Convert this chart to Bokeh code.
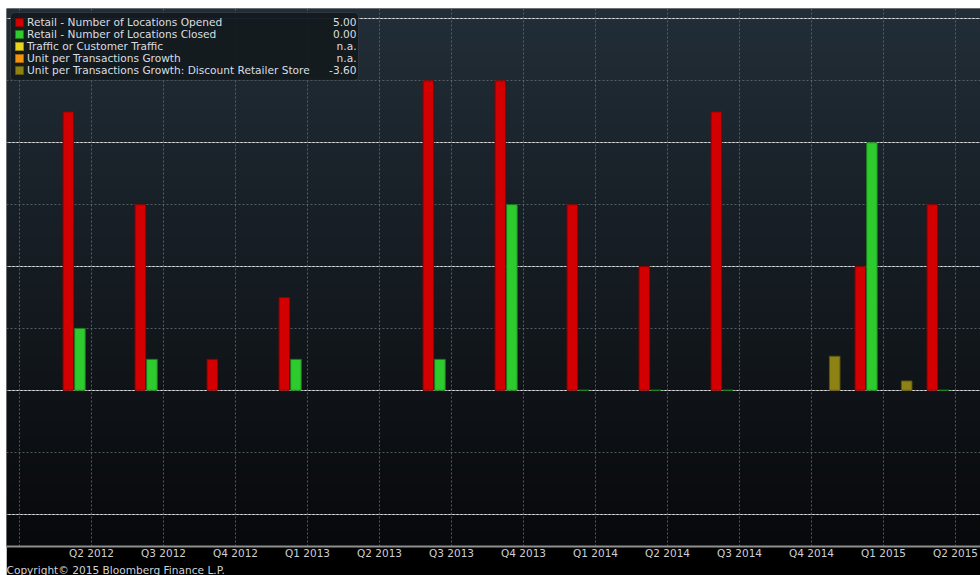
import numpy as np
from bokeh.plotting import figure
from bokeh.models import (Range1d, Legend, LegendItem, Label, FixedTicker,
                          ColumnDataSource, Grid, BoxAnnotation)
from bokeh.embed import file_html
from bokeh.resources import INLINE

nan = float("nan")

# ---------------- data ----------------
quarters = ["Q2 2012", "Q3 2012", "Q4 2012", "Q1 2013", "Q2 2013", "Q3 2013",
            "Q4 2013", "Q1 2014", "Q2 2014", "Q3 2014", "Q4 2014", "Q1 2015",
            "Q2 2015"]
opened = [4.5, 3.0, 0.5, 1.5, nan, 5.0, 5.0, 3.0, 2.0, 4.5, nan, 2.0, 3.0]
closed = [1.0, 0.5, nan, 0.5, nan, 0.5, 3.0, 0.0, 0.0, 0.0, nan, 4.0, 0.0]
traffic = [nan, nan, nan, nan, nan, nan, nan, nan, nan, nan, nan, nan, nan]
unit_growth = [nan, nan, nan, nan, nan, nan, nan, nan, nan, nan, nan, nan, nan]
discount = [nan, nan, nan, nan, nan, nan, nan, nan, nan, nan, 0.55, 0.15, nan]

series_names = ["Retail - Number of Locations Opened",
                "Retail - Number of Locations Closed",
                "Traffic or Customer Traffic",
                "Unit per Transactions Growth",
                "Unit per Transactions Growth: Discount Retailer Store"]
latest_values = ["5.00", "0.00", "n.a.", "n.a.", "-3.60"]
series_data = [opened, closed, traffic, unit_growth, discount]
colors = ["#d20000", "#2ecb2e", "#e6d41e", "#f39410", "#8f8214"]
edge_colors = ["#8a0000", "#1d7d1d", "#9a8c10", "#a5630a", "#5e550c"]
copyright_text = "Copyright\u00a9 2015 Bloomberg Finance L.P."

# ---------------- figure ----------------
PX = 62.0                      # pixels per y unit
X0, X1 = -1.181, 12.347
Y1 = 382.5 / PX
Y0 = Y1 - 539 / PX

p = figure(width=974, height=567, output_backend="svg", toolbar_location=None,
           x_range=Range1d(X0, X1), y_range=Range1d(Y0, Y1),
           y_axis_location=None, min_border_left=0, min_border_right=0,
           min_border_top=0, min_border_bottom=0,
           title=copyright_text, title_location="below")
p.margin = (8, 0, 0, 6)
p.border_fill_color = "black"
p.outline_line_color = None
p.background_fill_color = "#111418"
p.xgrid.visible = False

p.title.align = "left"
p.title.text_font = "DejaVu Sans"
p.title.text_font_size = "10.6px"
p.title.text_font_style = "normal"
p.title.text_color = "#d0d4d8"
p.title.standoff = 0
p.title.offset = 0

# vertical gradient background (top slate -> bottom near black)
n = 200
top = np.array([34, 46, 56], dtype=float)
bot = np.array([8, 9, 11], dtype=float)
t = np.linspace(0, 1, n)[:, None]
rgb = (bot * (1 - t) + top * t).astype(np.uint8)
img = np.zeros((n, 1), dtype=np.uint32)
view = img.view(dtype=np.uint8).reshape((n, 1, 4))
view[:, 0, 0] = rgb[:, 0]
view[:, 0, 1] = rgb[:, 1]
view[:, 0, 2] = rgb[:, 2]
view[:, 0, 3] = 255
p.image_rgba(image=[img], x=X0, y=Y0, dw=X1 - X0, dh=Y1 - Y0, level="image")

# grids
grid_style = dict(grid_line_color="#646b73", grid_line_alpha=0.8,
                  grid_line_dash="2 2", grid_line_width=1)
p.add_layout(Grid(dimension=0, ticker=FixedTicker(ticks=list(range(-1, 13))), **grid_style), "center")
p.add_layout(Grid(dimension=1, ticker=FixedTicker(ticks=list(range(-2, 7))), **grid_style), "center")

# bars
pitch = 0.161
width = 0.147
idx = np.arange(len(quarters))
renderers = []
for k, (vals, c, ec) in enumerate(zip(series_data, colors, edge_colors)):
    src = ColumnDataSource(dict(x=idx + (k - 2) * pitch, top=vals))
    r = p.vbar(x="x", top="top", bottom=0, width=width, source=src,
               fill_color=c, line_color=ec, line_width=1)
    renderers.append(r)

# x axis
ax = p.xaxis[0]
ax.ticker = FixedTicker(ticks=list(range(-1, 13)))
overrides = {i: q for i, q in enumerate(quarters)}
overrides[-1] = ""
ax.major_label_overrides = overrides
ax.axis_line_color = "#8e8e8e"
ax.axis_line_width = 2
ax.major_tick_in = 0
ax.major_tick_out = 0
ax.minor_tick_line_color = None
ax.major_label_standoff = 0
ax.major_label_text_font = "DejaVu Sans"
ax.major_label_text_font_size = "10.5px"
ax.major_label_text_color = "#c9d1d9"

# legend background box (drawn separately so the value column stays visible)
p.add_layout(BoxAnnotation(left=4, right=352, top=Y1 - 4 / PX, bottom=Y1 - 72 / PX,
                           left_units="screen", right_units="screen",
                           fill_color="#141a1f", fill_alpha=0.95,
                           line_color="#5c636b", line_width=1, border_radius=4,
                           level="annotation"))

items = [LegendItem(label=nm, renderers=[r]) for nm, r in zip(series_names, renderers)]
legend = Legend(items=items, location="top_left", margin=8, padding=4, spacing=-1,
                label_height=12, glyph_height=10, glyph_width=10, label_standoff=3,
                label_width=320,
                label_text_font="DejaVu Sans", label_text_font_size="10.6px",
                label_text_color="#dadee2", label_text_baseline="middle",
                background_fill_alpha=0, border_line_color=None)
p.add_layout(legend)

for j, val in enumerate(latest_values):
    p.add_layout(Label(x=350, y=Y1 - (14 + 12 * j) / PX, x_units="screen", y_units="data",
                       text=val, text_align="right", text_baseline="middle",
                       text_font="DejaVu Sans", text_font_size="10.6px",
                       text_color="#dadee2", level="overlay"))

open("out.html", "w").write(file_html(p, INLINE))
